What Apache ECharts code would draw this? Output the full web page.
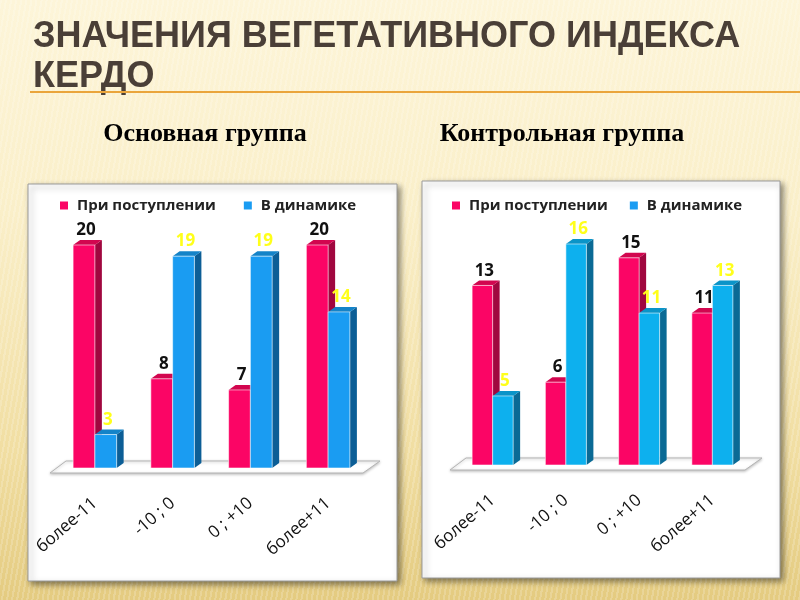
<!DOCTYPE html>
<html>
<head>
<meta charset="utf-8">
<script src="https://cdn.jsdelivr.net/npm/echarts@6/dist/echarts.min.js"></script>
<style>
  html, body { margin: 0; padding: 0; }
  #chart {
    width: 800px; height: 600px;
    background:
      repeating-linear-gradient(100deg, rgba(255,255,255,0.18) 0px, rgba(255,255,255,0.18) 2px, rgba(0,0,0,0) 2px, rgba(0,0,0,0) 5px),
      linear-gradient(to bottom, #fdf5d9 0%, #faefc9 35%, #f1dea2 75%, #e4cb80 100%);
  }
</style>
</head>
<body>
<div id="chart"></div>
<script>
const categories = ['более-11', '-10 ; 0', '0 ; +10', 'более+11'];
const seriesNames = ['При поступлении', 'В динамике'];
// основная группа
const mainAdmission = [20, 8, 7, 20];
const mainDynamics = [3, 19, 19, 14];
// контрольная группа
const controlAdmission = [13, 6, 15, 11];
const controlDynamics = [5, 16, 11, 13];

const DX = 7, DY = 5;
const pink = { front: '#fb0565', side: '#a0073f', top: '#d2064f', label: '#111111' };
const blueMain = { front: '#1a9cf2', side: '#0c5e96', top: '#1483c8', label: '#ffff1a' };
const blueCtrl = { front: '#0db0ee', side: '#0a6a95', top: '#0a94c8', label: '#ffff1a' };

let chart = echarts.init(document.getElementById('chart'), null, { renderer: 'canvas' });

// 3D-бар: передняя грань, боковая и верхняя
function bar3d(side, c) {
    return function (params, api) {
        let cat = api.value(0), val = api.value(1);
        let p = api.coord([cat, val]);
        let b = api.coord([cat, 0]);
        let w = api.size([1, 0])[0] * 0.28;
        let x0 = side === 0 ? p[0] - w : p[0];
        let x1 = x0 + w;
        let y = p[1], yb = b[1];
        return {
            type: 'group',
            children: [
                { type: 'polygon', shape: { points: [[x1, y], [x1 + DX, y - DY], [x1 + DX, yb - DY], [x1, yb]] }, style: { fill: c.side } },
                { type: 'polygon', shape: { points: [[x0, y], [x0 + DX, y - DY], [x1 + DX, y - DY], [x1, y]] }, style: { fill: c.top } },
                { type: 'rect', shape: { x: x0, y: y, width: w, height: yb - y }, style: { fill: c.front, stroke: 'rgba(255,255,255,0.55)', lineWidth: 1 } },
                { type: 'text', style: { text: String(val), x: x0 + w / 2 + 2, y: y - DY - 1, align: 'center', verticalAlign: 'bottom', fill: c.label, font: 'bold 17px "Open Sans"' } }
            ]
        };
    };
}

// пол диаграммы
function floor(params, api) {
    let cs = params.coordSys;
    let yb = cs.y + cs.height;
    return {
        type: 'polygon',
        shape: { points: [[cs.x - 6, yb + 5], [cs.x + 10, yb - 7], [cs.x + cs.width + 13, yb - 7], [cs.x + cs.width - 4, yb + 5]] },
        style: { fill: '#ffffff', stroke: '#b5b5b5', lineWidth: 1, shadowBlur: 3, shadowColor: 'rgba(0,0,0,0.25)', shadowOffsetY: 1 }
    };
}

function toData(arr) { return arr.map((v, i) => [i, v]); }

let xAxisBase = {
    type: 'category',
    data: categories,
    axisLine: { show: false },
    axisTick: { show: false },
    axisLabel: { rotate: 41, margin: 33, fontSize: 17, fontFamily: 'Open Sans', color: '#111' }
};

let legendBase = {
    icon: 'rect', itemWidth: 8, itemHeight: 8, top: 193,
    textStyle: { fontSize: 15, fontWeight: 'bold', fontFamily: 'Open Sans', color: '#222', padding: [0, 0, 0, 4] },
    data: seriesNames
};

let option = {
    animation: false,
    graphic: [
        { type: 'rect', z: -1, shape: { x: 28, y: 184, width: 369, height: 397 }, style: { fill: '#ffffff', stroke: '#9a9a9a', lineWidth: 1, shadowBlur: 6, shadowOffsetX: 3, shadowOffsetY: 3, shadowColor: 'rgba(0,0,0,0.45)' } },
        { type: 'rect', z: -1, shape: { x: 422, y: 181, width: 358, height: 397 }, style: { fill: '#ffffff', stroke: '#9a9a9a', lineWidth: 1, shadowBlur: 6, shadowOffsetX: 3, shadowOffsetY: 3, shadowColor: 'rgba(0,0,0,0.45)' } },
        { type: 'text', style: { text: 'ЗНАЧЕНИЯ ВЕГЕТАТИВНОГО ИНДЕКСА', x: 33, y: 37, verticalAlign: 'middle', fill: '#4a3f37', font: 'bold 36px "Liberation Sans"' } },
        { type: 'text', style: { text: 'КЕРДО', x: 33, y: 77, verticalAlign: 'middle', fill: '#4a3f37', font: 'bold 36px "Liberation Sans"' } },
        { type: 'line', shape: { x1: 30, y1: 92, x2: 800, y2: 92 }, style: { stroke: '#eaa53c', lineWidth: 2 } },
        { type: 'text', style: { text: 'Основная группа', x: 205, y: 134, align: 'center', verticalAlign: 'middle', fill: '#000', font: 'bold 26px "Liberation Serif"' } },
        { type: 'text', style: { text: 'Контрольная группа', x: 562, y: 134, align: 'center', verticalAlign: 'middle', fill: '#000', font: 'bold 26px "Liberation Serif"' } }
    ],
    legend: [
        Object.assign({}, legendBase, { left: 55, itemGap: 28 }),
        Object.assign({}, legendBase, { left: 447, itemGap: 22 })
    ],
    grid: [
        { left: 56, top: 245, width: 311, height: 223 },
        { left: 456, top: 244, width: 293, height: 221 }
    ],
    xAxis: [
        Object.assign({ gridIndex: 0 }, xAxisBase),
        Object.assign({ gridIndex: 1 }, xAxisBase)
    ],
    yAxis: [
        { type: 'value', gridIndex: 0, min: 0, max: 20, show: false },
        { type: 'value', gridIndex: 1, min: 0, max: 16, show: false }
    ],
    series: [
        { type: 'custom', name: 'floor0', xAxisIndex: 0, yAxisIndex: 0, data: [[0, 0]], renderItem: floor, silent: true },
        { type: 'custom', name: 'floor1', xAxisIndex: 1, yAxisIndex: 1, data: [[0, 0]], renderItem: floor, silent: true },
        { type: 'custom', name: seriesNames[0], xAxisIndex: 0, yAxisIndex: 0, itemStyle: { color: pink.front }, data: toData(mainAdmission), renderItem: bar3d(0, pink) },
        { type: 'custom', name: seriesNames[1], xAxisIndex: 0, yAxisIndex: 0, itemStyle: { color: blueMain.front }, data: toData(mainDynamics), renderItem: bar3d(1, blueMain) },
        { type: 'custom', name: seriesNames[0], xAxisIndex: 1, yAxisIndex: 1, itemStyle: { color: pink.front }, data: toData(controlAdmission), renderItem: bar3d(0, pink) },
        { type: 'custom', name: seriesNames[1], xAxisIndex: 1, yAxisIndex: 1, itemStyle: { color: blueCtrl.front }, data: toData(controlDynamics), renderItem: bar3d(1, blueCtrl) }
    ]
};
chart.setOption(option);
</script>
</body>
</html>
